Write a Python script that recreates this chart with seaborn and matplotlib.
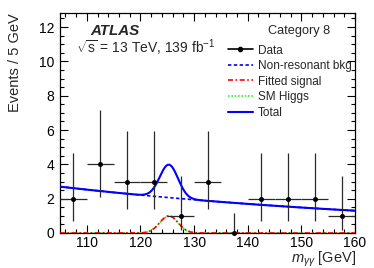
import numpy as np
import pandas as pd
import matplotlib
matplotlib.use("Agg")
import matplotlib.pyplot as plt
import seaborn as sns
from matplotlib.lines import Line2D
from matplotlib.ticker import MultipleLocator

# ---- data ----
bin_centers = [107.5, 112.5, 117.5, 122.5, 127.5, 132.5, 137.5, 142.5, 147.5, 152.5, 157.5]
counts = [2, 4, 3, 3, 1, 3, 0, 2, 2, 2, 1]
err_low = [1.30, 1.91, 1.63, 1.63, 0.83, 1.63, 0.0, 1.30, 1.30, 1.30, 0.83]
err_high = [2.64, 3.16, 2.92, 2.92, 2.30, 2.92, 1.15, 2.64, 2.64, 2.64, 2.30]
bin_half_width = 2.5

# fit model parameters
bkg_at_105 = 2.70
bkg_slope = -0.0133
sig_mean = 125.3
sig_sigma = 1.7
sig_peak_shown = 1.0      # fitted signal / SM Higgs curves peak
sm_peak_shown = 0.98
sig_peak_in_total = 1.92  # signal contribution to total curve

mass = np.linspace(105, 160, 551)
bkg = bkg_at_105 * np.exp(bkg_slope * (mass - 105))
shape = np.exp(-0.5 * ((mass - sig_mean) / sig_sigma) ** 2)
fitted_sig = sig_peak_shown * shape
sm_higgs = sm_peak_shown * shape
total = bkg + sig_peak_in_total * shape

curves = pd.DataFrame({"m": mass, "bkg": bkg, "sig": fitted_sig, "sm": sm_higgs, "total": total})
points = pd.DataFrame({"m": bin_centers, "n": counts})

# ---- figure ----
sns.set_theme(style="ticks")
plt.rcParams["font.family"] = ["Liberation Sans", "DejaVu Sans"]
plt.rcParams["mathtext.fontset"] = "custom"
plt.rcParams["mathtext.it"] = "Liberation Sans:italic"
plt.rcParams["mathtext.rm"] = "Liberation Sans"
plt.rcParams["mathtext.sf"] = "Liberation Sans"

W, H = 374, 268
fig = plt.figure(figsize=(W / 100, H / 100), dpi=100)
ax = fig.add_axes([60 / W, 1 - 233 / H, 295 / W, (233 - 13.3) / H])

dash_sig = (0, (3, 1.5, 1, 1.5))
dot_sm = (0, (1, 1))
dash_bkg = (0, (2, 1.5))

sns.lineplot(data=curves, x="m", y="sig", ax=ax, color="#ff0000", lw=1.2,
             linestyle=dash_sig, zorder=3)
sns.lineplot(data=curves, x="m", y="sm", ax=ax, color="#33ee33", lw=1.2,
             linestyle=dot_sm, zorder=2)
sns.lineplot(data=curves, x="m", y="bkg", ax=ax, color="#0000ff", lw=1.2,
             linestyle=dash_bkg, zorder=3)
sns.lineplot(data=curves, x="m", y="total", ax=ax, color="#0000ff", lw=1.5, zorder=4)

ax.errorbar(bin_centers, counts, yerr=[err_low, err_high], xerr=bin_half_width,
            fmt="none", ecolor="#2a2a2a", elinewidth=0.9, capsize=0, zorder=5)
sns.scatterplot(data=points, x="m", y="n", ax=ax, color="black", s=13,
                edgecolor="black", linewidth=0, zorder=6, clip_on=False)

ax.set_xlim(105, 160)
ax.set_ylim(0, 12.8)
ax.xaxis.set_major_locator(MultipleLocator(10))
ax.xaxis.set_minor_locator(MultipleLocator(2))
ax.yaxis.set_major_locator(MultipleLocator(2))
ax.yaxis.set_minor_locator(MultipleLocator(0.5))
ax.tick_params(which="both", direction="in", top=True, right=True, colors="black",
               labelsize=10, width=0.8)
ax.tick_params(which="major", length=5.8)
ax.tick_params(which="minor", length=2.9)
ax.tick_params(axis="x", pad=2.5)
ax.tick_params(axis="y", pad=4)
for s in ax.spines.values():
    s.set_linewidth(0.9)
    s.set_color("black")

ax.set_xlabel("")
ax.set_ylabel("")
fig.text(356 / W, 1 - 263 / H, r"$m_{\gamma\gamma}$ [GeV]", fontsize=10.5,
         ha="right", va="baseline")
fig.text(15 / W, 1 - 13 / H, "Events / 5 GeV", fontsize=10.5, rotation=90,
         ha="center", va="top")

fig.text(90 / W, 1 - 31 / H, "ATLAS", fontsize=10.9,
         fontweight="bold", fontstyle="italic", va="center", ha="left")
fig.text(76 / W, 1 - 48 / H, r"$\sqrt{\mathrm{s}}$ = 13 TeV, 139 fb$^{-1}$",
         fontsize=10, va="center", ha="left")
fig.text(330 / W, 1 - 31 / H, "Category 8", fontsize=9.2, va="center", ha="right")

handles = [
    Line2D([], [], color="black", lw=1.2, marker="o", markersize=3),
    Line2D([], [], color="#0000ff", lw=1.2, linestyle=dash_bkg),
    Line2D([], [], color="#ff0000", lw=1.2, linestyle=dash_sig),
    Line2D([], [], color="#33ee33", lw=1.2, linestyle=dot_sm),
    Line2D([], [], color="#0000ff", lw=1.5),
]
labels = ["Data", "Non-resonant bkg", "Fitted signal", "SM Higgs", "Total"]
ax.legend(handles, labels, loc="upper left", bbox_to_anchor=(228 / W, 1 - 44.5 / H),
          bbox_transform=fig.transFigure, frameon=False, fontsize=8.5,
          handlelength=2.1, handletextpad=0.4, labelspacing=0.30, borderpad=0,
          borderaxespad=0)

fig.savefig("out.png", dpi=100)
